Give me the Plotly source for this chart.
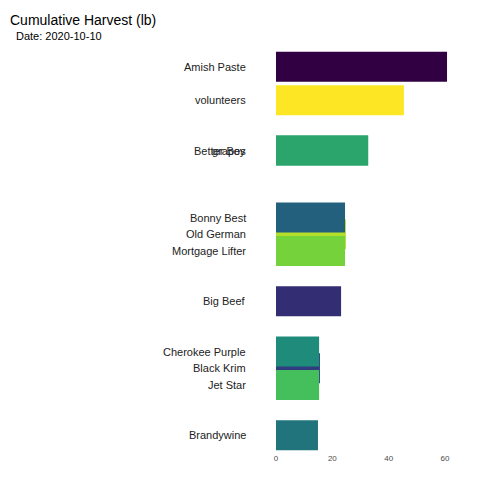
import plotly.graph_objects as go

# drawing order: bars listed later sit on top
varieties = ["grapes", "Old German", "Black Krim", "Amish Paste", "volunteers", "Better Boy",
             "Bonny Best", "Mortgage Lifter", "Big Beef", "Cherokee Purple", "Jet Star", "Brandywine"]
harvest = [32.7, 24.8, 15.6, 60.7, 45.4, 32.7, 24.5, 24.5, 23.1, 15.3, 15.3, 14.9]
rank = [3.5, 6.0, 10.0, 1.0, 2.0, 3.5, 5.5, 6.5, 8.0, 9.5, 10.5, 12.0]
colors = ["#2ba56c", "#b5de2b", "#2f3d80", "#310042", "#fde725", "#2ba56c",
          "#23607e", "#75d23a", "#332d74", "#1f8b7a", "#45bf5b", "#21747c"]
label_shift = [-28, -28, -28, -28, -28, -28, -28, -28, -28, -28, -28, -28]

fig = go.Figure()
for name, val, r, c in zip(varieties, harvest, rank, colors):
    fig.add_trace(go.Bar(x=[val], y=[r], orientation="h", width=0.9,
                         marker=dict(color=c, line=dict(width=0)), showlegend=False))
    fig.add_annotation(x=0, y=r, text=name, showarrow=False, xanchor="right",
                       xshift=-28, font=dict(size=11, color="#222222"))

fig.update_layout(
    barmode="overlay",
    width=480, height=480,
    margin=dict(l=268, r=8, t=42, b=36),
    plot_bgcolor="white", paper_bgcolor="white",
    font=dict(family="Liberation Sans, Arial, sans-serif"),
    annotations=list(fig.layout.annotations) + [
        dict(text="Cumulative Harvest (lb)", x=8, y=472, xref="paper", yref="paper",
             showarrow=False, font=dict(size=14, color="black"), xanchor="left", yanchor="middle"),
    ],
)
fig.layout.annotations[-1].update(xref="x domain", yref="y domain", x=-268 / 204, y=1 + 30 / 402)
fig.add_annotation(text="Date: 2020-10-10", xref="x domain", yref="y domain",
                   x=-262 / 204, y=1 + 14 / 402, showarrow=False, xanchor="left",
                   yanchor="middle", font=dict(size=11, color="black"))
fig.update_xaxes(range=[0, 72.4], tickvals=[0, 20, 40, 60], showgrid=False, zeroline=False,
                 tickfont=dict(size=8, color="#4d4d4d"), ticks="")
fig.update_yaxes(range=[12.5, 0.5], visible=False)
fig.write_html("out.html")
